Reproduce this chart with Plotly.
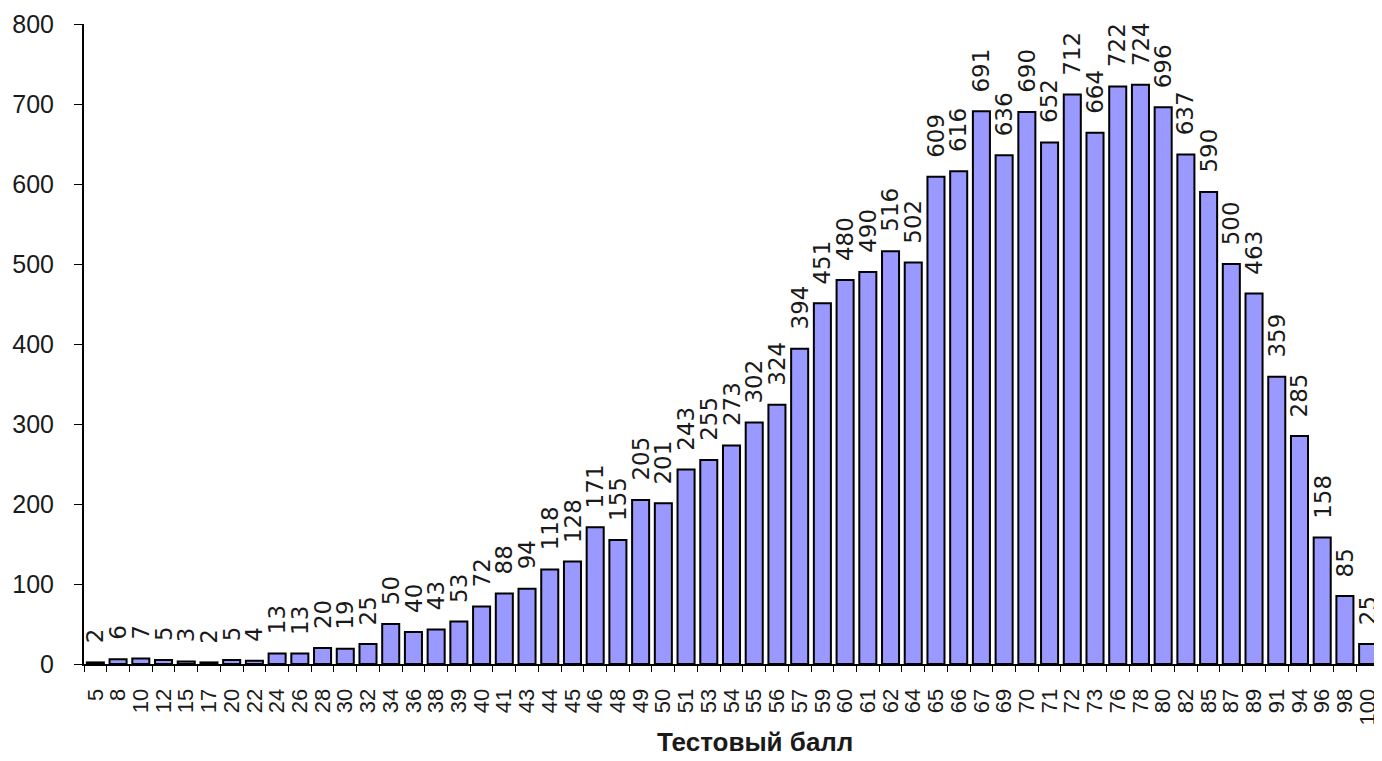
import plotly.graph_objects as go

# Test score distribution (number of participants per score)
scores = ["5", "8", "10", "12", "15", "17", "20", "22", "24", "26", "28", "30", "32",
          "34", "36", "38", "39", "40", "41", "43", "44", "45", "46", "48", "49", "50",
          "51", "53", "54", "55", "56", "57", "59", "60", "61", "62", "64", "65", "66",
          "67", "69", "70", "71", "72", "73", "76", "78", "80", "82", "85", "87", "89",
          "91", "94", "96", "98", "100"]
counts = [2, 6, 7, 5, 3, 2, 5, 4, 13, 13, 20, 19, 25, 50, 40, 43, 53, 72, 88, 94,
          118, 128, 171, 155, 205, 201, 243, 255, 273, 302, 324, 394, 451, 480, 490,
          516, 502, 609, 616, 691, 636, 690, 652, 712, 664, 722, 724, 696, 637, 590,
          500, 463, 359, 285, 158, 85, 25]
y_ticks = [0, 100, 200, 300, 400, 500, 600, 700, 800]

_TEXT = "#1a1a1a"

fig = go.Figure()
fig.add_trace(
    go.Bar(
        x=scores,
        y=counts,
        marker={"color": "#9999FF", "line": {"color": "#000000", "width": 2}},
        showlegend=False,
        hoverinfo="x+y",
    )
)

# value labels, rotated, sitting a little above each bar
# (x given as category index: numeric-looking strings get read as serials)
for i, c in enumerate(counts):
    fig.add_annotation(
        x=i, y=c, text=str(c), showarrow=False,
        textangle=-90, yanchor="bottom", xanchor="center", yshift=17,
        font={"family": "DejaVu Sans", "size": 23, "color": _TEXT},
    )

fig.add_annotation(
    xref="paper", yref="paper", x=0.518, y=-0.122, yanchor="middle",
    text="<b>Тестовый балл</b>", showarrow=False,
    font={"family": "Liberation Sans", "size": 26, "color": _TEXT},
)

# page body has an 8px margin, so the figure is a bit smaller than the window
fig.update_layout(
    width=1374, height=753,
    paper_bgcolor="white", plot_bgcolor="white",
    margin={"t": 8, "b": 97, "l": 76, "r": 2},
    bargap=0.25,
    font={"family": "Liberation Sans", "color": _TEXT},
    xaxis={
        "type": "category",
        "range": [-0.5, len(scores) - 0.5],
        "tickmode": "linear", "dtick": 1,
        "showline": True, "linecolor": "#000000", "linewidth": 2,
        "ticks": "outside", "tickson": "boundaries", "ticklen": 6,
        "tickcolor": "#000000", "tickwidth": 1,
        "tickangle": -90,
        "tickfont": {"family": "Liberation Sans", "size": 22, "color": _TEXT},
        "ticklabelstandoff": 14,
        "ticklabeloverflow": "allow",
        "showgrid": False, "zeroline": False,
    },
    yaxis={
        "range": [0, 800],
        "tickvals": y_ticks,
        "showline": True, "linecolor": "#000000", "linewidth": 2,
        "ticks": "outside", "ticklen": 8, "tickcolor": "#000000", "tickwidth": 1,
        "tickfont": {"family": "Liberation Sans", "size": 25, "color": _TEXT},
        "ticklabelstandoff": 15,
        "ticklabeloverflow": "allow",
        "showgrid": False, "zeroline": False,
    },
)

fig.write_html("out.html")
